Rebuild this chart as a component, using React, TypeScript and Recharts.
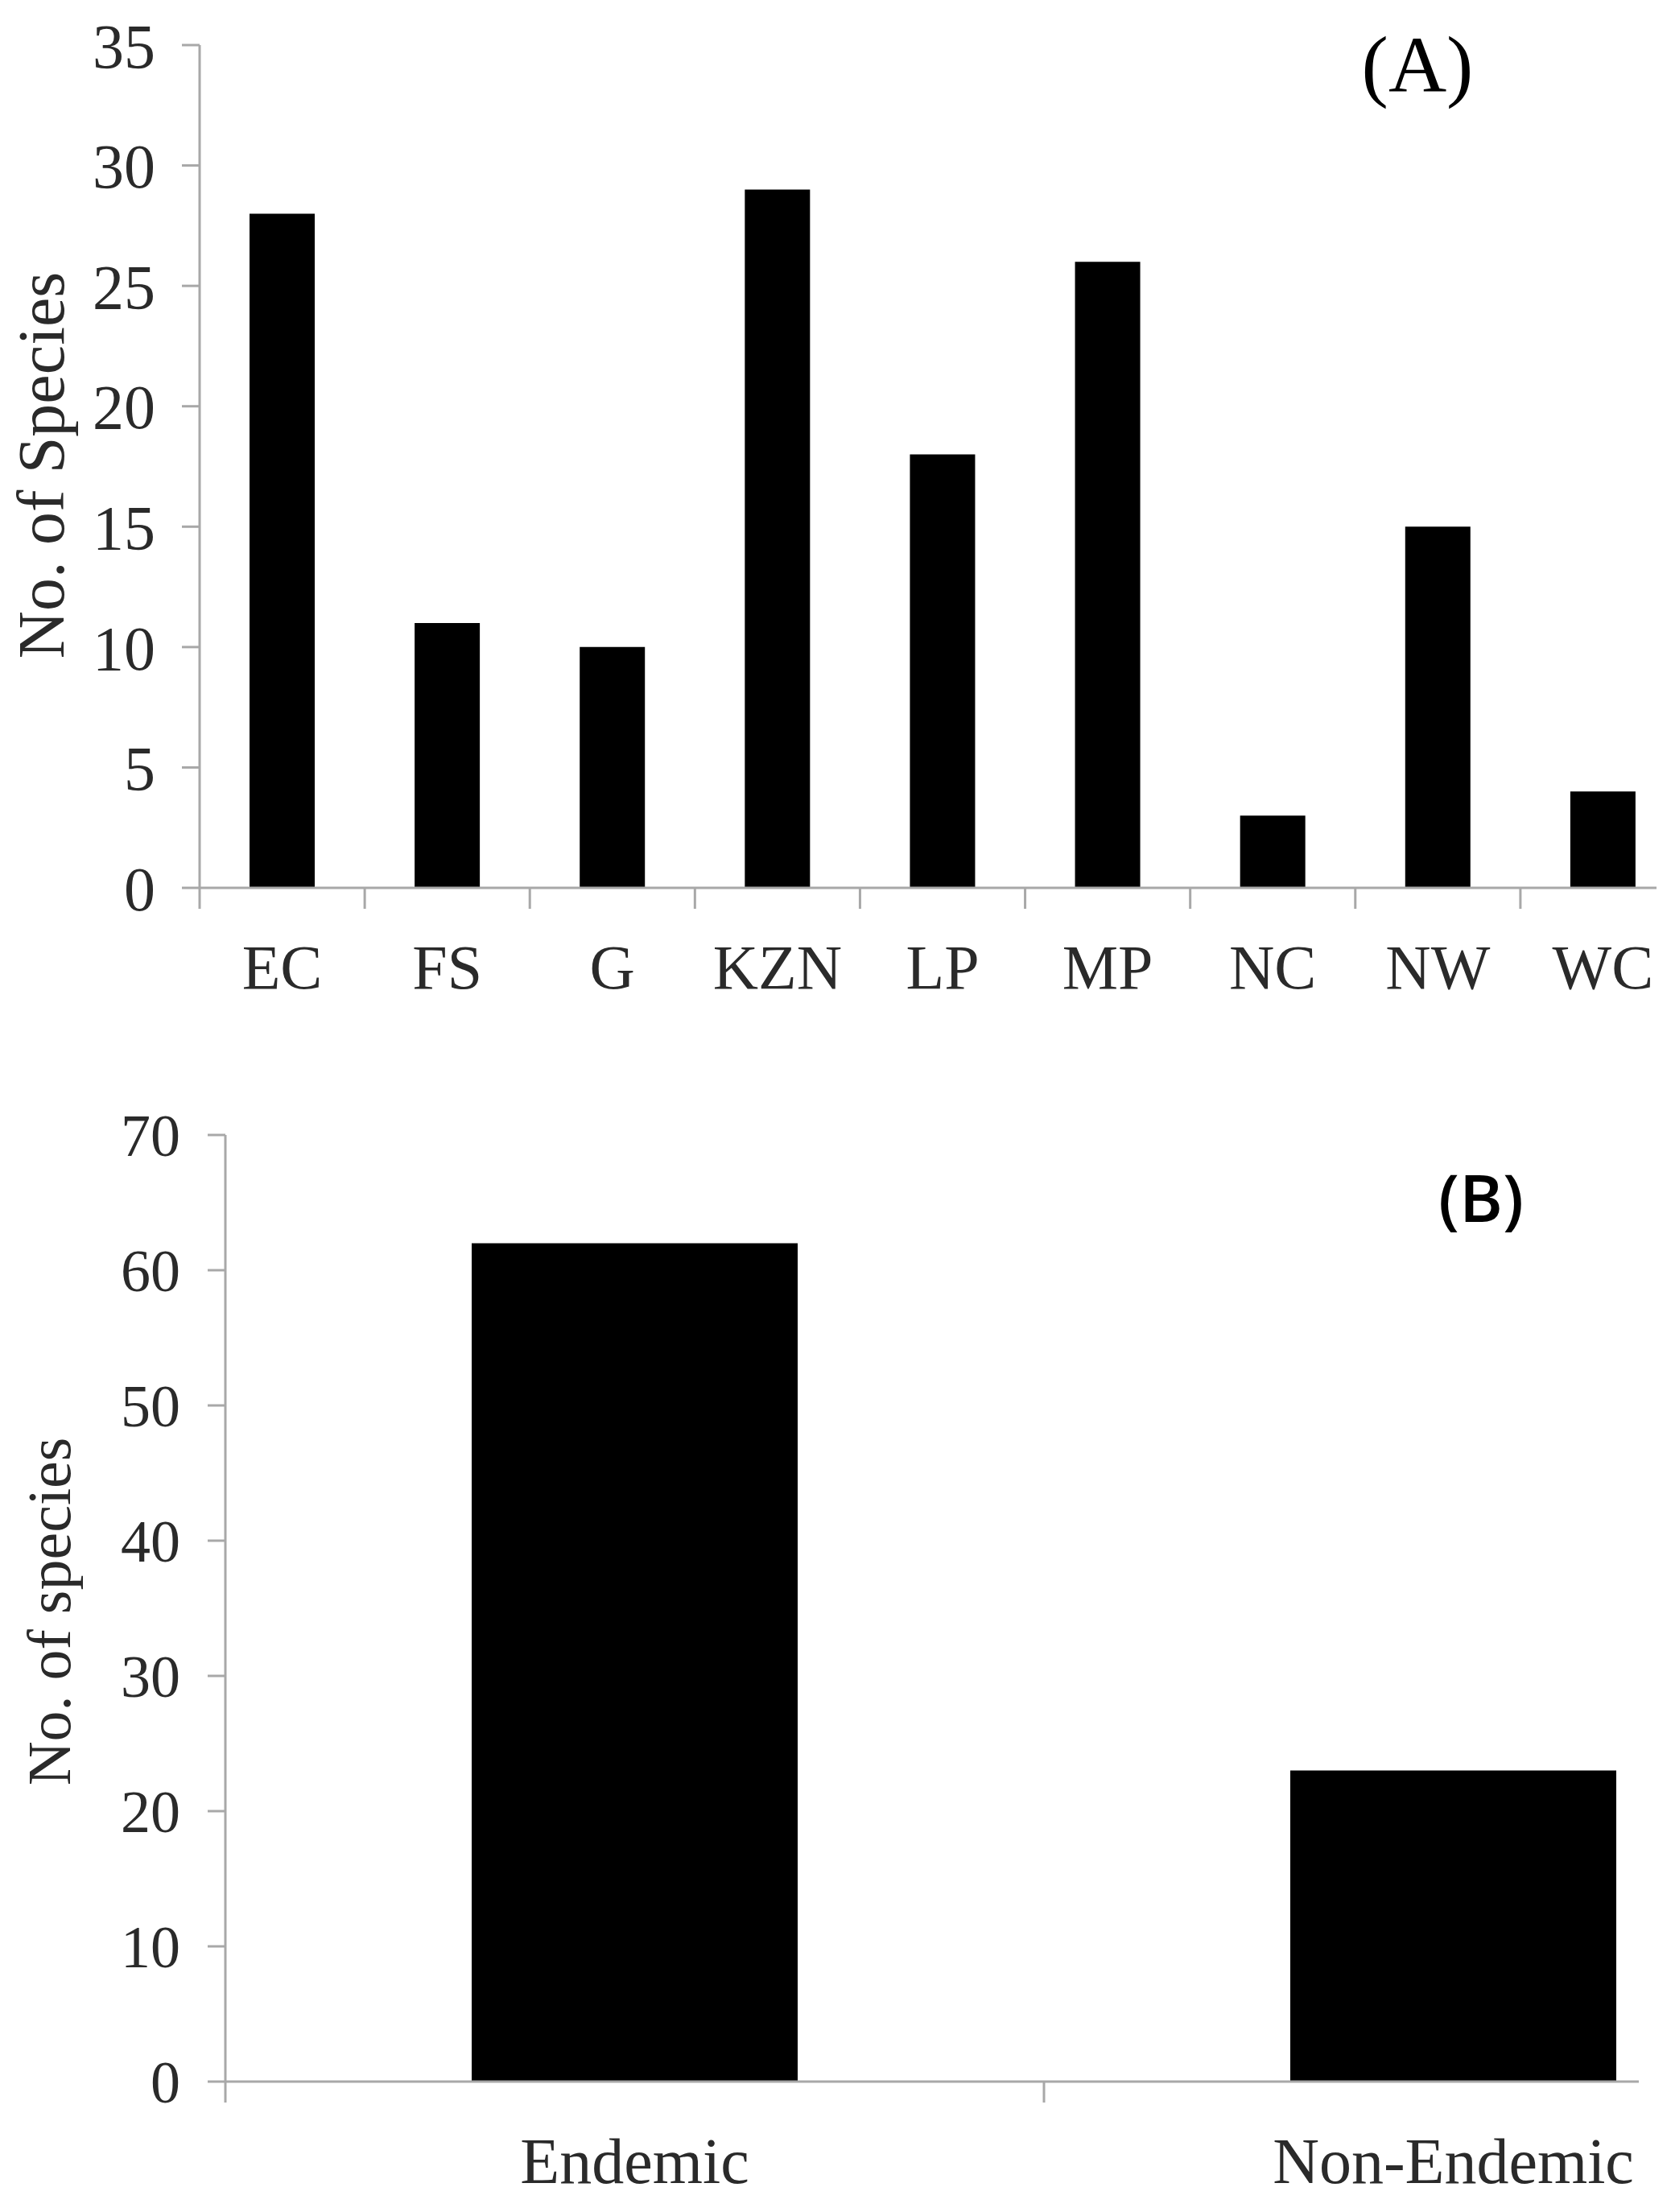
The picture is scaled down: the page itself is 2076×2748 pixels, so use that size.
import React from "react";
import { BarChart, Bar, XAxis, YAxis } from "recharts";

// (A) species per province
const provinces = ["EC", "FS", "G", "KZN", "LP", "MP", "NC", "NW", "WC"];
const provinceSpecies = [28, 11, 10, 29, 18, 26, 3, 15, 4];
const provinceTicks = [0, 5, 10, 15, 20, 25, 30, 35];

// (B) endemic vs non-endemic
const endemism = ["Endemic", "Non-Endemic"];
const endemismSpecies = [62, 23];
const endemismTicks = [0, 10, 20, 30, 40, 50, 60, 70];

const SERIF = "'Liberation Serif', 'Times New Roman', serif";
const AXIS = "#a8a8a8";
const TEXT = "#2a2a2a";

const provinceData = provinces.map((name, i) => ({ name, species: provinceSpecies[i] }));
const endemismData = endemism.map((name, i) => ({ name, species: endemismSpecies[i] }));

// category label plus a tick mark on the left edge of its band (Excel style)
function CategoryTick(props: any) {
  const { x, y, payload, fontSize, baseline, fallbackHalf } = props;
  const half = payload && payload.offset ? payload.offset : fallbackHalf;
  return (
    <g>
      <line x1={x - half} x2={x - half} y1={y} y2={y + 26} stroke={AXIS} strokeWidth={3} />
      <text x={x} y={y + baseline} textAnchor="middle" fontFamily={SERIF} fontSize={fontSize} fill={TEXT}>
        {payload.value}
      </text>
    </g>
  );
}

function AxisTitle({ text, left, top, size }: { text: string; left: number; top: number; size: number }) {
  return (
    <div
      style={{
        position: "absolute",
        left,
        top,
        transform: "translate(-50%, -50%) rotate(-90deg)",
        fontFamily: SERIF,
        fontSize: size,
        lineHeight: 1,
        whiteSpace: "nowrap",
        color: TEXT,
      }}
    >
      {text}
    </div>
  );
}

export default function App() {
  return (
    <div
      style={{
        position: "relative",
        width: 2076,
        height: 2748,
        margin: -8,
        overflow: "hidden",
        background: "#fff",
      }}
    >
      <div style={{ position: "absolute", left: 0, top: 0 }}>
        <BarChart width={2076} height={1290} data={provinceData} margin={{ top: 56, right: 18, left: 0, bottom: 37 }}>
          <XAxis
            dataKey="name"
            interval={0}
            height={150}
            tickSize={0}
            tickMargin={0}
            tickLine={false}
            padding={{ left: 0, right: -36 }}
            axisLine={{ stroke: AXIS, strokeWidth: 3 }}
            tick={<CategoryTick fontSize={78} baseline={125} fallbackHalf={102.5} />}
          />
          <YAxis
            type="number"
            domain={[0, 35]}
            ticks={provinceTicks}
            interval={0}
            width={248}
            tickSize={22}
            tickMargin={33}
            axisLine={{ stroke: AXIS, strokeWidth: 3 }}
            tickLine={{ stroke: AXIS, strokeWidth: 3 }}
            tick={{ fontFamily: SERIF, fontSize: 78, fill: TEXT }}
          />
          <Bar dataKey="species" fill="#000" barSize={81} isAnimationActive={false} />
        </BarChart>
      </div>
      <AxisTitle text="No. of Species" left={52} top={578} size={82} />
      <div
        style={{
          position: "absolute",
          left: 1761,
          top: 81,
          transform: "translate(-50%, -50%)",
          fontFamily: SERIF,
          fontSize: 100,
          lineHeight: 1,
          color: "#000",
        }}
      >
        (A)
      </div>

      <div style={{ position: "absolute", left: 0, top: 1290 }}>
        <BarChart width={2076} height={1458} data={endemismData} margin={{ top: 120, right: 40, left: 0, bottom: 12 }}>
          <XAxis
            dataKey="name"
            interval={0}
            height={150}
            tickSize={0}
            tickMargin={0}
            tickLine={false}
            padding={{ left: 0, right: -278 }}
            axisLine={{ stroke: AXIS, strokeWidth: 3 }}
            tick={<CategoryTick fontSize={80} baseline={126} fallbackHalf={508.5} />}
          />
          <YAxis
            type="number"
            domain={[0, 70]}
            ticks={endemismTicks}
            interval={0}
            width={280}
            tickSize={22}
            tickMargin={34}
            axisLine={{ stroke: AXIS, strokeWidth: 3 }}
            tickLine={{ stroke: AXIS, strokeWidth: 3 }}
            tick={{ fontFamily: SERIF, fontSize: 74, fill: TEXT }}
          />
          <Bar dataKey="species" fill="#000" barSize={405} isAnimationActive={false} />
        </BarChart>
      </div>
      <AxisTitle text="No. of species" left={61} top={2002} size={76} />
      <div
        style={{
          position: "absolute",
          left: 1840,
          top: 1486,
          transform: "translate(-50%, -50%)",
          fontFamily: "'Open Sans', sans-serif",
          fontWeight: 600,
          fontSize: 82,
          lineHeight: 1,
          color: "#000",
        }}
      >
        (B)
      </div>
    </div>
  );
}
